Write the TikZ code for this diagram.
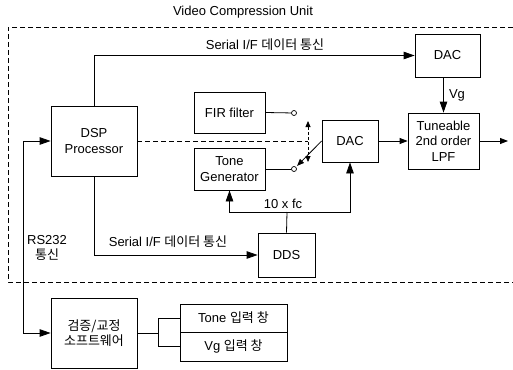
\documentclass[tikz,border=0pt]{standalone}
\usepackage{fontspec}
\setmainfont{Liberation Sans}
\newfontfamily\krf{Noto Sans CJK KR}
\newcommand\kr[1]{{\krf #1}}
\newcommand\fsz{\fontsize{13pt}{15.5pt}\selectfont}
\usetikzlibrary{arrows.meta}
\begin{document}
\begin{tikzpicture}[x=1pt,y=-1pt,
  line width=0.8pt,
  blk/.style={draw,inner sep=0pt,align=center,font=\fsz},
  lbl/.style={inner sep=0pt,align=center,font=\fsz},
  arr/.style={-{Triangle[length=11pt,width=7.5pt]}},
  sarr/.style={-{Triangle[length=8pt,width=6pt]}},
  tarr/.style={-{Triangle[length=7pt,width=5.5pt]}},
  term/.style={draw,circle,fill=white,inner sep=0pt,minimum size=5pt,line width=0.7pt},
  dsh/.style={dash pattern=on 5pt off 3pt},
  sdsh/.style={dash pattern=on 3pt off 2pt}]
\useasboundingbox (0,0) rectangle (513,369);
% dashed frame
\draw[dsh] (513,27) -- (8,27) -- (8,282) -- (513,282);
\node[lbl] (title) at (243,12) {Video Compression Unit};
% blocks
\node[blk,minimum width=65pt,minimum height=43pt] (dac1) at (447.5,55.5) {DAC};
\node[blk,minimum width=86pt,minimum height=70pt] (dsp) at (94,141) {DSP\\Processor};
\node[blk,minimum width=71pt,minimum height=41pt] (fir) at (229.5,112.5) {FIR filter};
\node[blk,minimum width=71pt,minimum height=42pt] (tone) at (229.5,169) {Tone\\Generator};
\node[blk,minimum width=56pt,minimum height=42pt] (dac2) at (350,141) {DAC};
\node[blk,minimum width=71pt,minimum height=56pt] (lpf) at (443.5,141) {Tuneable\\2nd order\\LPF};
\node[blk,minimum width=57pt,minimum height=44pt] (dds) at (286.5,255) {DDS};
\node[blk,minimum width=86pt,minimum height=70pt] (sw) at (94,333) {\kr{검증/교정}\\\kr{소프트웨어}};
\node[blk,minimum width=107pt,minimum height=28pt] (tin) at (233.5,318) {Tone \kr{입력 창}};
\node[blk,minimum width=107pt,minimum height=29pt] (vin) at (233.5,346.5) {Vg \kr{입력 창}};
% terminals
\node[term] (c1) at (294,113) {};
\node[term] (c2) at (294,169) {};
% coordinates
\coordinate (out) at (508,141);
\coordinate (sw1) at (308,141);
\coordinate (su) at (308,121);
\coordinate (sd) at (308,162);
\coordinate (j) at (287,212);
\coordinate (rs) at (23,141);
\coordinate (b) at (158,333);
% connectors
\draw[arr] (dsp.north) |- (dac1.west);
\node[lbl] (l1) at (265,45) {Serial I/F \kr{데이터 통신}};
\draw[arr] (dsp.south) |- (dds.west);
\node[lbl] (l2) at (168,242) {Serial I/F \kr{데이터 통신}};
\draw[arr] (dac1.south -| lpf.north) -- (lpf.north);
\node[lbl] (vg) at (457,95) {Vg};
\draw[sarr] (dac2.east) -- (lpf.west);
\draw[sarr] (lpf.east) -- (out);
\draw (fir.east) -- (c1);
\draw (tone.east |- c2) -- (c2);
\draw[dsh] (dsp.east) -- (sw1);
\draw[sdsh,{Triangle[length=6pt,width=5pt]}-{Triangle[length=6pt,width=5pt]}] (su) -- (sd);
\draw[tarr,shorten >=1.5pt] (dac2.west) -- (c2);
\draw (dds.north) -- (j);
\draw[arr] (j) -| (tone.south);
\draw[arr] (j) -| (dac2.south);
\node[lbl] (l3) at (283,204) {10 x fc};
\draw[arr] (rs) -- (dsp.west);
\draw[arr] (rs) |- (sw.west);
\node[lbl] (l4) at (47,248) {RS232\\\kr{통신}};
\draw (sw.east) -- (b);
\draw (tin.west) -| (b);
\draw (vin.west) -| (b);
\end{tikzpicture}
\end{document}
